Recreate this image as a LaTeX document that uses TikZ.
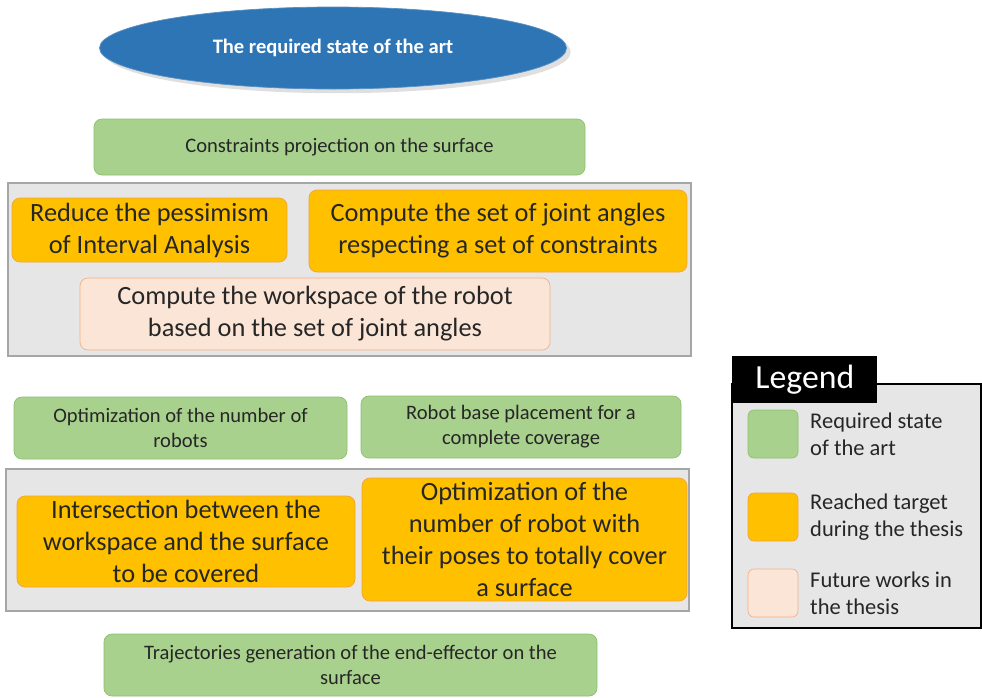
\documentclass[tikz,border=0pt]{standalone}
\usepackage{fontspec}
\setmainfont{Carlito}
\usepackage{tikz}
\usetikzlibrary{positioning,shapes.geometric,shadows}

\definecolor{artblue}{HTML}{2E75B6}
\definecolor{reqgreen}{HTML}{A9D18E}
\definecolor{reqline}{HTML}{8DBF6E}
\definecolor{reachfill}{HTML}{FFC000}
\definecolor{reachline}{HTML}{F0A43A}
\definecolor{futfill}{HTML}{FBE5D6}
\definecolor{futline}{HTML}{F4B183}
\definecolor{panelgray}{HTML}{E7E6E6}
\definecolor{panelline}{HTML}{A6A6A6}
\definecolor{txt}{HTML}{262626}

\def\px{0.02cm}
\tikzset{
  boxsize/.style 2 args={minimum width=#1*\px,minimum height=#2*\px},
  req node/.style={rectangle,rounded corners=8*\px,fill=reqgreen,draw=reqline,
    text=txt,align=center,inner sep=2pt,font=\fontsize{11.7}{14.2}\selectfont},
  reach node/.style={rectangle,rounded corners=8*\px,fill=reachfill,draw=reachline,
    text=txt,align=center,inner sep=2pt,font=\fontsize{15}{18.2}\selectfont},
  fut node/.style={rectangle,rounded corners=8*\px,fill=futfill,draw=futline,
    text=txt,align=center,inner sep=2pt,font=\fontsize{15}{18.2}\selectfont},
  panel/.style={fill=panelgray,draw=panelline,line width=0.6pt},
  key node/.style={rectangle,rounded corners=6*\px,minimum width=50*\px,minimum height=48*\px},
  key text/.style={anchor=west,align=left,text=txt,font=\fontsize{12.8}{15.2}\selectfont},
}

\begin{document}
\begin{tikzpicture}[x=\px,y=-\px]
\useasboundingbox[fill=white] (0,0) rectangle (982,697);

% title
\node[ellipse,fill=artblue,draw=artblue!80!white,drop shadow={opacity=0.25},boxsize={467}{82},
  text=white,font=\bfseries\fontsize{11.7}{13}\selectfont] (art) at (333,48) {The required state of the art};

\node[req node,boxsize={491}{56}] (proj) at (339.5,147) {Constraints projection on the surface};

% first group
\draw[panel] (8,183) rectangle (691,356);
\node[reach node,boxsize={275}{64}] (pess) at (149.5,230) {Reduce the pessimism\\of Interval Analysis};
\node[reach node,boxsize={378}{82}] (joint) at (498,231) {Compute the set of joint angles\\respecting a set of constraints};
\node[fut node,boxsize={470}{72}] (wspace) at (315,314) {Compute the workspace of the robot\\based on the set of joint angles};

\node[req node,boxsize={333}{62}] (nbrob) at (180.5,428) {Optimization of the number of\\robots};
\node[req node,boxsize={320}{62}] (base) at (521,427) {Robot base placement for a\\complete coverage};

% second group
\draw[panel] (6,469) rectangle (689,611);
\node[reach node,boxsize={338}{91}] (inter) at (186,541.5) {Intersection between the\\workspace and the surface\\to be covered};
\node[reach node,boxsize={325}{123}] (poses) at (524.5,539.5) {Optimization of the\\number of robot with\\their poses to totally cover\\a surface};

\node[req node,boxsize={493}{62}] (traj) at (350.5,665) {Trajectories generation of the end-effector on the\\surface};

% legend
\draw[fill=panelgray,draw=black,line width=0.7pt] (732,384) rectangle (981,628);
\node[fill=black,text=white,anchor=north west,minimum width=145*\px,minimum height=47*\px,
  font=\fontsize{19.2}{21}\selectfont] (title) at (732,356) {Legend};
\node[key node,fill=reqgreen,draw=reqline] (kreq) at (773,434) {};
\node[key node,fill=reachfill,draw=reachline] (kreach) at (773,517) {};
\node[key node,fill=futfill,draw=futline] (kfut) at (773,593) {};
\node[key text] (treq) at (804,434) {Required state\\of the art};
\node[key text] (treach) at (804,517) {Reached target\\during the thesis};
\node[key text] (tfut) at (804,593) {Future works in\\the thesis};
\end{tikzpicture}
\end{document}
